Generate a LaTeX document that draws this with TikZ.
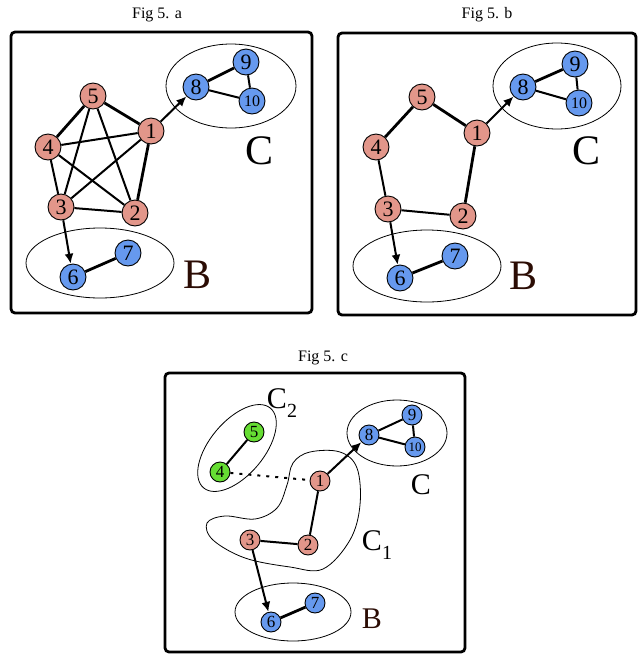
\documentclass[tikz,border=0pt]{standalone}
\usepackage{fontspec}
\setmainfont{Liberation Serif}
\usetikzlibrary{arrows.meta}
\definecolor{salmon}{RGB}{226,150,138}
\definecolor{nblue}{RGB}{102,153,238}
\definecolor{ngreen}{RGB}{102,221,51}
\definecolor{bbrown}{RGB}{43,12,4}
\tikzset{
  vbig/.style={circle,draw=black,line width=0.9pt,minimum size=26pt,inner sep=0pt,font=\fontsize{22}{22}\selectfont},
  vsmall/.style={circle,draw=black,line width=0.9pt,minimum size=20pt,inner sep=0pt,font=\fontsize{17}{17}\selectfont},
  red/.style={fill=salmon},
  blu/.style={fill=nblue},
  grn/.style={fill=ngreen},
  tiny10/.style={font=\fontsize{16}{16}\selectfont},
  tinier10/.style={font=\fontsize{13}{13}\selectfont},
  frame/.style={line width=2.8pt,rounded corners=4pt},
  grp/.style={line width=0.8pt},
  ethick/.style={line width=2.8pt},
  enorm/.style={line width=2pt},
  arr/.style={line width=2pt,-{Latex[length=10pt,width=9pt]}},
  biglab/.style={inner sep=0pt,font=\fontsize{42}{42}\selectfont},
  midlab/.style={inner sep=0pt,font=\fontsize{30}{30}\selectfont},
  ttl/.style={inner sep=0pt,font=\fontsize{16}{16}\selectfont},
}
\begin{document}
\begin{tikzpicture}[x=1pt,y=-1pt]
\useasboundingbox (0,0) rectangle (640,654);
% ---------------- Fig 5.a ----------------
\node[ttl] (ta) at (157,15) {Fig 5. a};
\draw[frame] (11,32) rectangle (312,313);
\draw[grp] (231,86) ellipse [x radius=65pt, y radius=42pt];
\draw[grp] (100,263) ellipse [x radius=74pt, y radius=35pt];
\node[vbig,red] (a5) at (93,96) {5};
\node[vbig,red] (a1) at (151,131) {1};
\node[vbig,red] (a4) at (48,147) {4};
\node[vbig,red] (a3) at (61,207) {3};
\node[vbig,red] (a2) at (135,213) {2};
\node[vbig,blu] (a8) at (196,87) {8};
\node[vbig,blu] (a9) at (246,62) {9};
\node[vbig,blu,tiny10] (a10) at (252,101) {10};
\node[vbig,blu] (a6) at (73,277) {6};
\node[vbig,blu] (a7) at (128,253) {7};
\draw[ethick] (a5) -- (a1);
\draw[ethick] (a5) -- (a4);
\draw[ethick] (a1) -- (a2);
\draw[enorm] (a5) -- (a3);
\draw[enorm] (a5) -- (a2);
\draw[enorm] (a4) -- (a1);
\draw[enorm] (a4) -- (a2);
\draw[enorm] (a4) -- (a3);
\draw[enorm] (a3) -- (a1);
\draw[enorm] (a3) -- (a2);
\draw[arr] (a1) -- (a8);
\draw[arr] (a3) -- (a6);
\draw[ethick] (a8) -- (a9);
\draw[enorm] (a8) -- (a10);
\draw[enorm] (a9) -- (a10);
\draw[ethick] (a6) -- (a7);
\node[biglab] (aC) at (260,151) {C};
\node[biglab,text=bbrown] (aB) at (198,275) {B};
% ---------------- Fig 5.b ----------------
\node[ttl] (tb) at (487,15) {Fig 5. b};
\draw[frame] (338,33) rectangle (636,315);
\draw[grp] (557,86) ellipse [x radius=64pt, y radius=43pt];
\draw[grp] (427,266) ellipse [x radius=74pt, y radius=36pt];
\node[vbig,red] (b5) at (422,97) {5};
\node[vbig,red] (b1) at (477,133) {1};
\node[vbig,red] (b4) at (376,147) {4};
\node[vbig,red] (b3) at (388,209) {3};
\node[vbig,red] (b2) at (463,216) {2};
\node[vbig,blu] (b8) at (523,87) {8};
\node[vbig,blu] (b9) at (575,64) {9};
\node[vbig,blu,tiny10] (b10) at (579,103) {10};
\node[vbig,blu] (b6) at (400,278) {6};
\node[vbig,blu] (b7) at (455,256) {7};
\draw[ethick] (b5) -- (b1);
\draw[ethick] (b5) -- (b4);
\draw[enorm] (b4) -- (b3);
\draw[enorm] (b3) -- (b2);
\draw[ethick] (b2) -- (b1);
\draw[arr] (b1) -- (b8);
\draw[arr] (b3) -- (b6);
\draw[ethick] (b8) -- (b9);
\draw[enorm] (b8) -- (b10);
\draw[enorm] (b9) -- (b10);
\draw[ethick] (b6) -- (b7);
\node[biglab] (bC) at (587,151) {C};
\node[biglab,text=bbrown] (bB) at (524,276) {B};
% ---------------- Fig 5.c ----------------
\node[ttl] (tc) at (323,358) {Fig 5. c};
\draw[frame] (165,373) rectangle (465,652);
\draw[grp] (397,433) ellipse [x radius=50pt, y radius=33pt];
\draw[grp] (293,612) ellipse [x radius=58pt, y radius=29pt];
\draw[grp,rotate around={50:(237,448)}] (237,448) ellipse [x radius=52pt, y radius=27pt];
\draw[grp] plot[smooth cycle,tension=0.6] coordinates {(207,523) (225,516) (255,519) (277,508) (287,485) (293,463) (310,452) (340,452) (357,468) (360,505) (350,540) (323,569) (290,567) (245,558) (213,540)};
\node[vsmall,grn] (c5) at (254,432) {5};
\node[vsmall,grn] (c4) at (220,472) {4};
\node[vsmall,red] (c1) at (320,481) {1};
\node[vsmall,red] (c2) at (308,545) {2};
\node[vsmall,red] (c3) at (250,540) {3};
\node[vsmall,blu] (c8) at (369,435) {8};
\node[vsmall,blu] (c9) at (412,415) {9};
\node[vsmall,blu,tinier10] (c10) at (415,447) {10};
\node[vsmall,blu] (c6) at (271,622) {6};
\node[vsmall,blu] (c7) at (315,603) {7};
\draw[enorm] (c5) -- (c4);
\draw[line width=2pt,dash pattern=on 3pt off 6pt] (c4) -- (c1);
\draw[enorm] (c1) -- (c2);
\draw[enorm] (c2) -- (c3);
\draw[arr] (c1) -- (c8);
\draw[arr] (c3) -- (c6);
\draw[enorm] (c8) -- (c9);
\draw[enorm] (c8) -- (c10);
\draw[enorm] (c9) -- (c10);
\draw[ethick] (c6) -- (c7);
\node[midlab] (cC2) at (282,403) {C\raisebox{-0.3em}{\fontsize{20}{20}\selectfont 2}};
\node[midlab] (cC) at (421,485) {C};
\node[midlab] (cC1) at (377,545) {C\raisebox{-0.3em}{\fontsize{20}{20}\selectfont 1}};
\node[midlab,text=bbrown] (cB) at (372,619) {B};
\end{tikzpicture}
\end{document}
